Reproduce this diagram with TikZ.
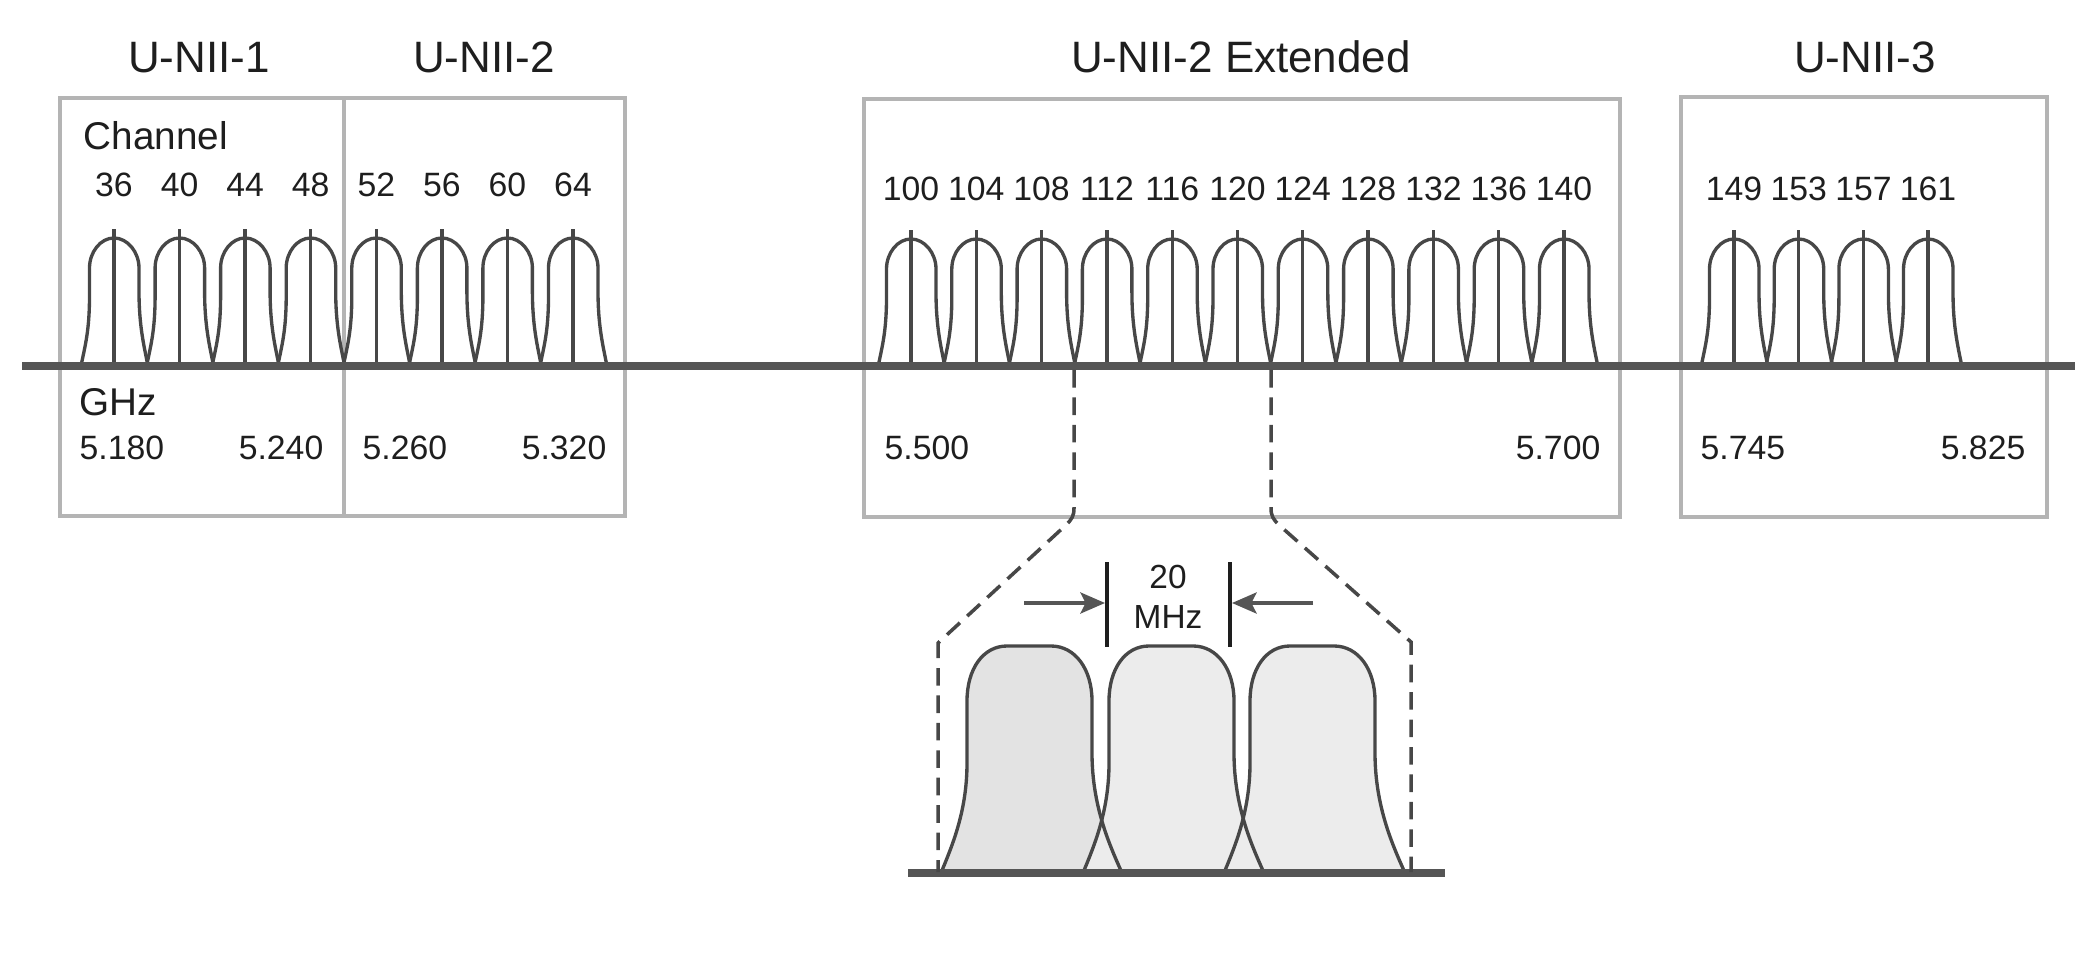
\documentclass[tikz,border=0pt]{standalone}
\usepackage{fontspec}
\setmainfont{Liberation Sans}
\usetikzlibrary{arrows.meta}
\definecolor{boxgray}{HTML}{B4B4B4}
\definecolor{ink}{HTML}{474747}
\definecolor{axisgray}{HTML}{555555}
\definecolor{txt}{HTML}{1E1E1E}
\definecolor{fillA}{HTML}{E3E3E3}
\definecolor{fillB}{HTML}{ECECEC}
\begin{document}
\begin{tikzpicture}[x=0.01cm,y=-0.01cm,
  bandbox/.style={draw=boxgray,line width=0.9pt},
  bellline/.style={draw=ink,line width=0.95pt},
  axisline/.style={draw=axisgray,line width=2.3pt},
  dashline/.style={draw=ink,line width=1pt,dash pattern=on 5pt off 2.8pt},
  dimbar/.style={draw=txt,line width=1.2pt},
  dimarrow/.style={draw=axisgray,line width=1pt,-{Stealth[length=7pt,width=6pt,inset=1.5pt]}},
  title/.style={font=\fontsize{12.5}{14}\selectfont,text=txt,inner sep=0pt,anchor=base},
  chnum/.style={font=\fontsize{9.6}{11}\selectfont,text=txt,inner sep=0pt,anchor=base},
  freq/.style={font=\fontsize{9.6}{11}\selectfont,text=txt,inner sep=0pt},
  sidelabel/.style={font=\fontsize{11}{13}\selectfont,text=txt,inner sep=0pt,anchor=base west},
  dimlabel/.style={font=\fontsize{9.5}{11}\selectfont,text=txt,inner sep=0pt,anchor=base},
  sbell/.pic={
    \draw[bellline] (-33,0) .. controls (-29,-20) and (-24.5,-35) .. (-24.5,-70)
      -- (-24.5,-98) .. controls (-24.5,-114) and (-13.5,-128) .. (0,-128)
      .. controls (13.5,-128) and (25,-114) .. (25,-98)
      -- (25,-75) .. controls (25,-40) and (30,-20) .. (34,0);
    \draw[bellline] (0,0) -- (0,-137);
  },
  bbell/.pic={
    \path[pic actions] (-88,0) .. controls (-78,-25) and (-62,-60) .. (-62,-110)
      -- (-62,-172) .. controls (-62,-204) and (-46,-227) .. (-22,-227)
      -- (22,-227) .. controls (46,-227) and (63,-204) .. (63,-172)
      -- (63,-120) .. controls (63,-65) and (82,-25) .. (93,0);
  }
]
\useasboundingbox (0,0) rectangle (2100,964);

% band boxes
\draw[bandbox] (60,98) rectangle (625,516);
\draw[bandbox] (344,98) -- (344,516);
\draw[bandbox] (864,99) rectangle (1620,517);
\draw[bandbox] (1681,97) rectangle (2047,517);

% titles
\node[title] (tA) at (199,73) {U-NII-1};
\node[title] (tB) at (484,73) {U-NII-2};
\node[title] (tC) at (1241,73) {U-NII-2 Extended};
\node[title] (tD) at (1865,73) {U-NII-3};

\node[sidelabel] (chan) at (83,150) {Channel};
\node[sidelabel] (ghz) at (79,416) {GHz};

% channels
\foreach \x/\n in {114/36,179.6/40,245.1/44,310.7/48,376.3/52,441.9/56,507.4/60,573/64}{
  \pic at (\x,366) {sbell};
  \node[chnum] (c\n) at (\x,197) {\n};
}
\foreach \x/\n in {911/100,976.3/104,1041.6/108,1106.9/112,1172.2/116,1237.5/120,1302.8/124,1368.1/128,1433.4/132,1498.7/136,1564/140}{
  \pic at (\x,367) {sbell};
  \node[chnum] (c\n) at (\x,201) {\n};
}
\foreach \x/\n in {1734/149,1798.7/153,1863.4/157,1928/161}{
  \pic at (\x,367) {sbell};
  \node[chnum] (c\n) at (\x,201) {\n};
}

% main axis
\coordinate (axL) at (22,366);
\coordinate (axR) at (2075,366);
\draw[axisline] (axL) -- (axR);

% frequencies
\node[freq,anchor=base west] (f5180) at (79,459) {5.180};
\node[freq,anchor=base east] (f5240) at (324,459) {5.240};
\node[freq,anchor=base west] (f5260) at (362,459) {5.260};
\node[freq,anchor=base east] (f5320) at (607,459) {5.320};
\node[freq,anchor=base west] (f5500) at (884,459) {5.500};
\node[freq,anchor=base east] (f5700) at (1601,459) {5.700};
\node[freq,anchor=base west] (f5745) at (1700,459) {5.745};
\node[freq,anchor=base east] (f5825) at (2026,459) {5.825};

% magnified view
\pic[fill=fillA] at (1029,873) {bbell};
\pic[fill=fillB] at (1171,873) {bbell};
\pic[fill=fillB] at (1312,873) {bbell};
\pic[bellline] at (1029,873) {bbell};
\pic[bellline] at (1171,873) {bbell};
\pic[bellline] at (1312,873) {bbell};

\coordinate (bxL) at (908,873);
\coordinate (bxR) at (1445,873);
\draw[axisline] (bxL) -- (bxR);

% zoom guides
\coordinate (gL) at (1074,370);
\coordinate (gR) at (1271,370);
\draw[dashline] (gL) -- (1074,508) .. controls (1074,516) and (1072,519) .. (1066,525)
  -- (938,643) -- (938,872);
\draw[dashline] (gR) -- (1271,508) .. controls (1271,516) and (1273,519) .. (1279,525)
  -- (1411,642) -- (1411,872);

% 20 MHz dimension
\coordinate (barLt) at (1107,562);
\coordinate (barLb) at (1107,647);
\coordinate (barRt) at (1230,562);
\coordinate (barRb) at (1230,647);
\draw[dimbar] (barLt) -- (barLb);
\draw[dimbar] (barRt) -- (barRb);
\coordinate (arL) at (1024,603);
\coordinate (arR) at (1313,603);
\draw[dimarrow] (arL) -- (1105,603);
\draw[dimarrow] (arR) -- (1232,603);
\node[dimlabel] (n20) at (1168,588) {20};
\node[dimlabel] (nmhz) at (1168,628) {MHz};
\end{tikzpicture}
\end{document}
